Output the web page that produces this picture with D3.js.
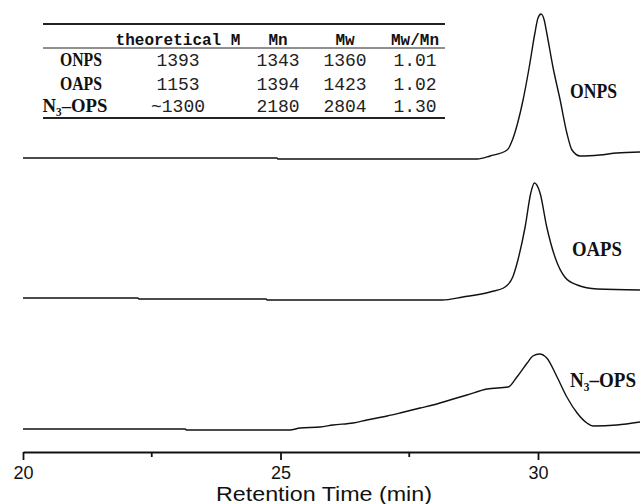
<!DOCTYPE html>
<html>
<head>
<meta charset="utf-8">
<script src="https://cdn.jsdelivr.net/npm/d3@7"></script>
<style>
  body { margin: 0; background: #fff; }
  svg { display: block; }
</style>
</head>
<body>
<div class="chart"></div>
<script>
// GPC traces, retention time (min) vs detector signal (arbitrary units)
var onpsTime = [20.0, 24.93, 24.95, 28.82, 29.07, 29.40, 29.51, 29.61, 29.71, 29.83, 29.94, 30.00, 30.06, 30.12, 30.17, 30.29, 30.43, 30.56, 30.66, 30.82, 31.20, 31.53, 31.98];
var onpsSignal = [0, 0, -0.1, -0.1, 0.2, 0.8, 1.9, 3.6, 5.8, 9.1, 12.5, 14.0, 14.4, 13.8, 12.5, 9.1, 5.8, 2.5, 0.8, 0.2, 0.3, 0.5, 0.6];

var oapsTime = [20.0, 22.23, 22.25, 24.72, 24.74, 28.14, 28.54, 29.07, 29.36, 29.51, 29.61, 29.75, 29.86, 29.93, 30.04, 30.17, 30.35, 30.52, 30.76, 31.15, 31.98];
var oapsSignal = [0, 0, -0.1, -0.1, -0.2, -0.2, 0.1, 0.6, 1.1, 2.1, 3.8, 7.1, 10.5, 11.5, 10.5, 7.1, 3.8, 2.1, 1.3, 0.9, 0.8];

var n3Time = [20.0, 23.15, 23.17, 25.18, 25.38, 25.77, 26.02, 26.41, 26.68, 27.07, 27.32, 27.71, 27.96, 28.29, 28.62, 29.01, 29.42, 29.59, 29.79, 29.90, 30.03, 30.17, 30.37, 30.56, 30.76, 30.95, 31.07, 31.53, 31.98];
var n3Signal = [0, 0, -0.1, -0.1, 0.1, 0.2, 0.4, 0.6, 0.9, 1.3, 1.6, 2.1, 2.4, 2.9, 3.4, 4.0, 4.2, 5.2, 6.6, 7.3, 7.5, 7.1, 5.2, 3.2, 1.6, 0.6, 0.3, 0.4, 0.7];

// vertical offset of each trace (stacked)
var traceOffsets = [29.4, 15.4, 2.3];

// inset table
var tableRows = ["ONPS", "OAPS", "N\u2083\u2013OPS"];
var tableHeaders = ["theoretical M", "Mn", "Mw", "Mw/Mn"];
var theoM = ["1393", "1153", "~1300"];
var mnValues = ["1343", "1394", "2180"];
var mwValues = ["1360", "1423", "2804"];
var pdiValues = ["1.01", "1.02", "1.30"];

var majorTicks = [20, 25, 30];
var minorTicks = [22.5, 27.5];

var svgWidth = 640;
var svgHeight = 504;

var svg = d3.select(".chart")
    .append("svg")
    .attr("width", svgWidth)
    .attr("height", svgHeight);

var xScale = d3.scaleLinear().domain([20, 32]).range([23, 641]);
var yScale = d3.scaleLinear().domain([0, 45]).range([452, 2]);

var traces = [
    {name: tableRows[0], time: onpsTime, signal: onpsSignal, offset: traceOffsets[0]},
    {name: tableRows[1], time: oapsTime, signal: oapsSignal, offset: traceOffsets[1]},
    {name: tableRows[2], time: n3Time, signal: n3Signal, offset: traceOffsets[2]}
];

var line = d3.line()
    .x(function(d) { return xScale(d[0]); })
    .y(function(d) { return yScale(d[1]); })
    .curve(d3.curveMonotoneX);

svg.selectAll(".trace")
    .data(traces)
    .enter()
    .append("path")
    .attr("class", "trace")
    .attr("fill", "none")
    .attr("stroke", "#111")
    .attr("stroke-width", 1.4)
    .attr("d", function(t) {
        return line(t.time.map(function(v, i) { return [v, t.signal[i] + t.offset]; }));
    });

// x axis, major ticks with labels, minor ticks without
var axisG = svg.append("g").attr("transform", "translate(0,452)");
axisG.call(d3.axisBottom(xScale)
        .tickValues(majorTicks)
        .tickSize(8)
        .tickSizeOuter(0)
        .tickPadding(6)
        .tickFormat(d3.format("d")));
axisG.select(".domain").attr("stroke", "#111").attr("stroke-width", 1.8);
axisG.selectAll(".tick line").attr("stroke", "#111").attr("stroke-width", 1.8);
axisG.selectAll(".tick text")
    .attr("fill", "#111")
    .style("font-family", "Liberation Sans, Arial, sans-serif")
    .style("font-size", "18px");

axisG.selectAll(".minor")
    .data(minorTicks)
    .enter()
    .append("line")
    .attr("class", "minor")
    .attr("x1", function(d) { return xScale(d); })
    .attr("x2", function(d) { return xScale(d); })
    .attr("y1", 0)
    .attr("y2", 5)
    .attr("stroke", "#111")
    .attr("stroke-width", 1.8);

svg.append("text")
    .attr("x", 324)
    .attr("y", 501)
    .attr("text-anchor", "middle")
    .attr("textLength", 216)
    .attr("lengthAdjust", "spacingAndGlyphs")
    .style("font-family", "Liberation Sans, Arial, sans-serif")
    .style("font-size", "20px")
    .attr("fill", "#111")
    .text("Retention Time (min)");

// trace labels: narrow bold serif, squeezed horizontally to the width seen
var labelPos = [{x: 570, y: 98, w: 47}, {x: 572, y: 256, w: 50}, {x: 570, y: 387, w: 66}];
traces.forEach(function(t, i) {
    var lbl = svg.append("text")
        .style("font-family", "Liberation Serif, DejaVu Serif, serif")
        .style("font-weight", "bold")
        .style("font-size", "21px")
        .attr("fill", "#111")
        .text(t.name);
    var k = labelPos[i].w / lbl.node().getComputedTextLength();
    lbl.attr("transform", "translate(" + labelPos[i].x + "," + labelPos[i].y + ") scale(" + k + ",1)");
});

// table
var table = svg.append("g");
table.append("line").attr("x1", 43).attr("x2", 445).attr("y1", 24).attr("y2", 24)
    .attr("stroke", "#222").attr("stroke-width", 2);
table.append("line").attr("x1", 43).attr("x2", 445).attr("y1", 48).attr("y2", 48)
    .attr("stroke", "#222").attr("stroke-width", 1);
table.append("line").attr("x1", 43).attr("x2", 445).attr("y1", 118).attr("y2", 118)
    .attr("stroke", "#222").attr("stroke-width", 2);

var colX = [178, 278, 345, 415];
table.selectAll(".hdr")
    .data(tableHeaders)
    .enter()
    .append("text")
    .attr("class", "hdr")
    .attr("x", function(d, i) { return colX[i]; })
    .attr("y", 45)
    .attr("text-anchor", "middle")
    .style("font-family", "Liberation Mono, monospace")
    .style("font-weight", "bold")
    .style("font-size", "16px")
    .attr("fill", "#111")
    .text(function(d) { return d; });

var rowY = [66, 90, 112];
var rowW = [42, 42, 65];
tableRows.forEach(function(r, i) {
    table.append("text")
        .attr("x", i === 2 ? 75 : 81)
        .attr("y", rowY[i])
        .attr("text-anchor", "middle")
        .attr("textLength", rowW[i])
        .attr("lengthAdjust", "spacingAndGlyphs")
        .style("font-family", "Liberation Serif, DejaVu Serif, serif")
        .style("font-weight", "bold")
        .style("font-size", "19px")
        .attr("fill", "#111")
        .text(r);

    [theoM[i], mnValues[i], mwValues[i], pdiValues[i]].forEach(function(v, j) {
        table.append("text")
            .attr("x", colX[j])
            .attr("y", rowY[i])
            .attr("text-anchor", "middle")
            .style("font-family", "Liberation Mono, monospace")
            .style("font-size", "18px")
            .attr("fill", "#222")
            .text(v);
    });
});
</script>
</body>
</html>
